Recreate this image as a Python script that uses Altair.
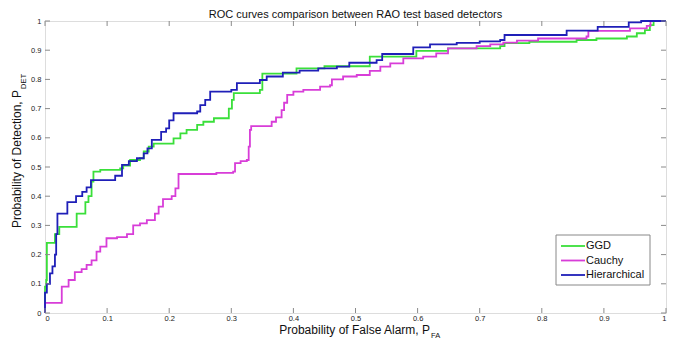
import altair as alt
import pandas as pd

series_names = ["GGD", "Cauchy", "Hierarchical"]
series_colors = ["#3adf3a", "#d83dd8", "#1f1fb8"]

ggd_x = [0, 0, 0.002, 0.003, 0.016, 0.023, 0.051, 0.065, 0.07, 0.075,
         0.078, 0.089, 0.121, 0.126, 0.137, 0.153, 0.159, 0.167, 0.175, 0.207,
         0.218, 0.228, 0.245, 0.255, 0.272, 0.296, 0.301, 0.304, 0.346, 0.35,
         0.405, 0.45, 0.523, 0.598, 0.649, 0.733, 0.74, 0.78, 0.856, 0.888,
         0.937, 0.953, 0.966, 0.974, 0.98, 1.0]
ggd_y = [0, 0.09, 0.113, 0.24, 0.27, 0.295, 0.34, 0.38, 0.40, 0.45,
         0.484, 0.49, 0.495, 0.505, 0.524, 0.53, 0.553, 0.57, 0.58, 0.598,
         0.615, 0.627, 0.644, 0.655, 0.667, 0.7, 0.73, 0.753, 0.764, 0.82,
         0.838, 0.845, 0.878, 0.898, 0.906, 0.914, 0.924, 0.929, 0.935, 0.94,
         0.947, 0.958, 0.969, 0.986, 1.0, 1.0]

cauchy_x = [0, 0, 0.027, 0.038, 0.048, 0.059, 0.067, 0.075, 0.083, 0.089,
            0.099, 0.116, 0.132, 0.142, 0.153, 0.164, 0.177, 0.183, 0.19, 0.204,
            0.21, 0.215, 0.276, 0.303, 0.306, 0.315, 0.325, 0.328, 0.33, 0.332,
            0.365, 0.372, 0.381, 0.385, 0.39, 0.4, 0.416, 0.443, 0.459, 0.462,
            0.48, 0.502, 0.523, 0.54, 0.556, 0.577, 0.609, 0.63, 0.649, 0.695,
            0.717, 0.738, 0.76, 0.794, 0.872, 0.875, 0.942, 0.969, 0.975, 1.0]
cauchy_y = [0, 0.035, 0.09, 0.113, 0.14, 0.15, 0.165, 0.18, 0.21, 0.227,
            0.256, 0.26, 0.27, 0.3, 0.307, 0.318, 0.34, 0.364, 0.39, 0.4,
            0.427, 0.476, 0.48, 0.484, 0.513, 0.52, 0.524, 0.57, 0.627, 0.64,
            0.655, 0.67, 0.695, 0.72, 0.747, 0.758, 0.764, 0.775, 0.78, 0.8,
            0.81, 0.815, 0.829, 0.844, 0.855, 0.872, 0.878, 0.889, 0.906, 0.914,
            0.92, 0.926, 0.933, 0.94, 0.947, 0.966, 0.975, 0.983, 1.0, 1.0]

hier_x = [0, 0, 0.003, 0.008, 0.012, 0.016, 0.018, 0.02, 0.036, 0.05,
          0.06, 0.067, 0.074, 0.113, 0.124, 0.135, 0.148, 0.159, 0.165, 0.172,
          0.187, 0.195, 0.2, 0.207, 0.245, 0.25, 0.258, 0.266, 0.3, 0.309,
          0.346, 0.357, 0.383, 0.41, 0.44, 0.47, 0.49, 0.534, 0.543, 0.593,
          0.62, 0.663, 0.7, 0.733, 0.74, 0.84, 0.89, 0.94, 0.96, 1.0]
hier_y = [0, 0.07, 0.1, 0.136, 0.16, 0.2, 0.27, 0.34, 0.38, 0.40,
          0.415, 0.43, 0.455, 0.47, 0.507, 0.52, 0.53, 0.547, 0.564, 0.593,
          0.62, 0.632, 0.66, 0.684, 0.69, 0.712, 0.73, 0.758, 0.764, 0.787,
          0.798, 0.81, 0.823, 0.83, 0.838, 0.844, 0.857, 0.866, 0.887, 0.91,
          0.92, 0.925, 0.93, 0.935, 0.952, 0.967, 0.98, 0.995, 1.0, 1.0]

tick_values = [0, 0.1, 0.2, 0.3, 0.4, 0.5, 0.6, 0.7, 0.8, 0.9, 1.0]

title_text = "ROC curves comparison between RAO test based detectors"
xtitle_text = "Probability of False Alarm, P"
xtitle_sub = "FA"
ytitle_text = "Probability of Detection, P"
ytitle_sub = "DET"

W, H = 621, 292
FONT = "Liberation Sans"

rows = []
for name, xs, ys in [("GGD", ggd_x, ggd_y), ("Cauchy", cauchy_x, cauchy_y),
                     ("Hierarchical", hier_x, hier_y)]:
    for i, (a, b) in enumerate(zip(xs, ys)):
        rows.append({"series": name, "pfa": a, "pdet": b, "idx": i})
df = pd.DataFrame(rows)

xscale = alt.Scale(domain=[0, 1], nice=False, zero=False)
yscale = alt.Scale(domain=[0, 1], nice=False, zero=False)
xaxis = alt.Axis(values=tick_values, format="~g", ticks=False, tickSize=0,
                 domain=False, grid=False, labelFontSize=7.5, labelFont=FONT,
                 labelColor="#222", labelPadding=1, labelOverlap=False, title=None)
yaxis = alt.Axis(values=tick_values, format="~g", ticks=False, tickSize=0,
                 domain=False, grid=False, labelFontSize=7.5, labelFont=FONT,
                 labelColor="#222", labelPadding=4, labelOverlap=False, title=None)

lines = alt.Chart(df).mark_line(interpolate="step-after", strokeWidth=1.8).encode(
    x=alt.X("pfa:Q", scale=xscale, axis=xaxis),
    y=alt.Y("pdet:Q", scale=yscale, axis=yaxis),
    color=alt.Color("series:N", sort=series_names,
                    scale=alt.Scale(domain=series_names, range=series_colors),
                    legend=None),
    order="idx:Q",
)

tdf = pd.DataFrame({"v": tick_values})
tick_color = "#8a8a8a"
ticks_bottom = alt.Chart(tdf).mark_rule(color=tick_color, strokeWidth=1).encode(
    x=alt.X("v:Q", scale=xscale, axis=xaxis), y=alt.value(H), y2=alt.value(H - 5))
ticks_top = alt.Chart(tdf).mark_rule(color=tick_color, strokeWidth=1).encode(
    x=alt.X("v:Q", scale=xscale, axis=xaxis), y=alt.value(0), y2=alt.value(5))
ticks_left = alt.Chart(tdf).mark_rule(color=tick_color, strokeWidth=1).encode(
    y=alt.Y("v:Q", scale=yscale, axis=yaxis), x=alt.value(0), x2=alt.value(5))
ticks_right = alt.Chart(tdf).mark_rule(color=tick_color, strokeWidth=1).encode(
    y=alt.Y("v:Q", scale=yscale, axis=yaxis), x=alt.value(W), x2=alt.value(W - 5))


def label(text, x, y, size=11, angle=0, align="center"):
    kw = dict(fontSize=size, font=FONT, color="#111", align=align, baseline="middle")
    if angle:
        kw["angle"] = angle
    return alt.Chart(pd.DataFrame({"t": [text]})).mark_text(**kw).encode(
        text="t:N", x=alt.value(x), y=alt.value(y))


title = label(title_text, W / 2, -6.5, size=11)
xt = label(xtitle_text, 385, H + 17, size=12, align="right")
xs_ = label(xtitle_sub, 386, H + 23, size=7.5, align="left")
yt = label(ytitle_text, -28, 69, size=12, angle=270, align="right")
ys_ = label(ytitle_sub, -21, 68, size=7.5, angle=270, align="left")

# legend (box, line samples, labels)
LX, LY, LW, LH = 511, 214, 94, 50
legend_layers = [
    alt.Chart(pd.DataFrame({"k": [0]})).mark_rect(
        fill="white", stroke="#888", strokeWidth=1).encode(
        x=alt.value(LX), x2=alt.value(LX + LW), y=alt.value(LY), y2=alt.value(LY + LH))
]
for i, (name, col) in enumerate(zip(series_names, series_colors)):
    yy = LY + 11 + 14.5 * i
    legend_layers.append(
        alt.Chart(pd.DataFrame({"s": [name]})).mark_rule(color=col, strokeWidth=1.8).encode(
            x=alt.value(LX + 5), x2=alt.value(LX + 29), y=alt.value(yy)))
    legend_layers.append(label(name, LX + 30, yy, size=11, align="left"))

chart = alt.layer(lines, ticks_bottom, ticks_top, ticks_left, ticks_right,
                  title, xt, xs_, yt, ys_, *legend_layers).properties(
    width=W, height=H,
    padding={"left": 37, "top": 13, "right": 2, "bottom": 28},
    autosize=alt.AutoSizeParams(type="none"),
).configure_view(stroke="#8a8a8a", strokeWidth=1).configure(background="white")

chart.save("out.html", embed_options={"renderer": "svg", "actions": False})
